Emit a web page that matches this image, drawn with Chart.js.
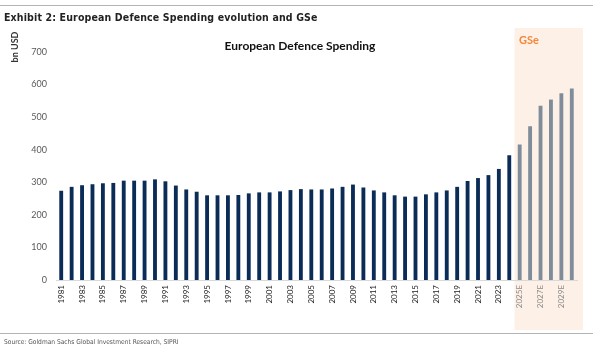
<!DOCTYPE html>
<html>
<head>
<meta charset="utf-8">
<script src="https://cdn.jsdelivr.net/npm/chart.js@4.4.1/dist/chart.umd.min.js"></script>
<style>
  html, body { margin: 0; padding: 0; background: #fff; }
  #wrap { position: relative; width: 605px; height: 350px; overflow: hidden; }
  #chart { position: absolute; left: 0; top: 0; }
  .rule { position: absolute; left: 0; width: 593px; height: 0; border-top: 1px solid #b4b4b4; }
  .narrow { font-family: "Liberation Sans Narrow", "Arial Narrow", "DejaVu Sans Condensed", sans-serif; position: absolute; white-space: nowrap; }
  #exhibit { left: 4px; top: 11px; font-size: 10.5px; letter-spacing: 0.15px; font-weight: bold; color: #222; }
  #source { left: 4px; top: 338px; font-size: 6.6px; color: #555; }
  #ytitle { position: absolute; left: 14px; top: 47px; font: bold 9px Lato, sans-serif; color: #333;
            transform: translate(-50%, -50%) rotate(-90deg); transform-origin: center; white-space: nowrap; }
  #ctitle { position: absolute; left: 300px; top: 38px; transform: translateX(-50%); font: bold 12px Lato, sans-serif; color: #111; white-space: nowrap; }
  #gse { position: absolute; left: 519px; top: 33px; font: bold 11px Lato, sans-serif; color: #f5873a; }
</style>
</head>
<body>
<div id="wrap">
  <canvas id="chart" width="605" height="350"></canvas>
  <div class="rule" style="top:5px"></div>
  <div class="narrow" id="exhibit">Exhibit 2: European Defence Spending evolution and GSe</div>
  <div id="ytitle">bn USD</div>
  <div id="ctitle">European Defence Spending</div>
  <div id="gse">GSe</div>
  <div class="rule" style="top:333px"></div>
  <div class="narrow" id="source">Source: Goldman Sachs Global Investment Research, SIPRI</div>
</div>
<script>
// categories
const years = [
  "1981", "1982", "1983", "1984", "1985", "1986", "1987", "1988", "1989", "1990",
  "1991", "1992", "1993", "1994", "1995", "1996", "1997", "1998", "1999", "2000",
  "2001", "2002", "2003", "2004", "2005", "2006", "2007", "2008", "2009", "2010",
  "2011", "2012", "2013", "2014", "2015", "2016", "2017", "2018", "2019", "2020",
  "2021", "2022", "2023", "2024"
];
const estYears = ["2025E", "2026E", "2027E", "2028E", "2029E", "2030E"];

// bn USD
const actualSpend = [
  274, 286, 291, 294, 297, 298, 305, 305, 305, 309,
  303, 290, 278, 271, 260, 260, 260, 261, 266, 269,
  269, 272, 276, 279, 278, 278, 281, 286, 293, 284,
  275, 269, 260, 256, 256, 263, 269, 275, 286, 304,
  313, 322, 341, 383
];
const gseSpend = [416, 472, 535, 554, 573, 588];

const yTicks = [0, 100, 200, 300, 400, 500, 600, 700];

const labels = years.concat(estYears);
const values = actualSpend.concat(gseSpend);

const NAVY = "#0a2c57";
const GREY = "#7f8d9b";

// shaded forecast panel behind everything
const gsePanel = {
  id: "gsePanel",
  beforeDraw(chart) {
    const x = chart.scales.x;
    const ctx = chart.ctx;
    const n = years.length;
    const left = (x.getPixelForValue(n - 1) + x.getPixelForValue(n)) / 2;
    const right = chart.chartArea.right + 6;
    ctx.save();
    ctx.fillStyle = "#fdf0e7";
    ctx.fillRect(left, 28, right - left, 330 - 28);
    ctx.restore();
  }
};

new Chart(document.getElementById("chart"), {
  type: "bar",
  data: {
    labels: labels,
    datasets: [{
      data: values,
      backgroundColor: ctx => ctx.dataIndex < years.length ? NAVY : GREY,
      borderWidth: 0,
      barPercentage: 0.37,
      categoryPercentage: 1
    }]
  },
  plugins: [gsePanel],
  options: {
    responsive: false,
    animation: false,
    layout: { padding: { left: 0, right: 28, top: 52, bottom: 30 } },
    plugins: {
      legend: { display: false },
      tooltip: { enabled: false }
    },
    scales: {
      x: {
        grid: { display: false, drawTicks: false },
        border: { display: true, color: "#d9d9d9", width: 1 },
        afterFit: s => { s.height = 40; },
        ticks: {
          autoSkip: false,
          maxRotation: 90,
          minRotation: 90,
          padding: 5,
          font: { family: "Lato", size: 8 },
          color: c => c.index >= years.length ? "#8a8a8a" : "#222",
          callback: function (val, i) {
            return i % 2 === 0 ? this.getLabelForValue(val) : "";
          }
        }
      },
      y: {
        min: 0,
        max: 700,
        afterFit: s => { s.width = 56; },
        afterBuildTicks: s => { s.ticks = yTicks.map(v => ({ value: v })); },
        grid: { display: false, drawTicks: false },
        border: { display: false },
        ticks: {
          padding: 9,
          font: { family: "Lato", size: 9 },
          color: "#595959"
        }
      }
    }
  }
});
</script>
</body>
</html>
